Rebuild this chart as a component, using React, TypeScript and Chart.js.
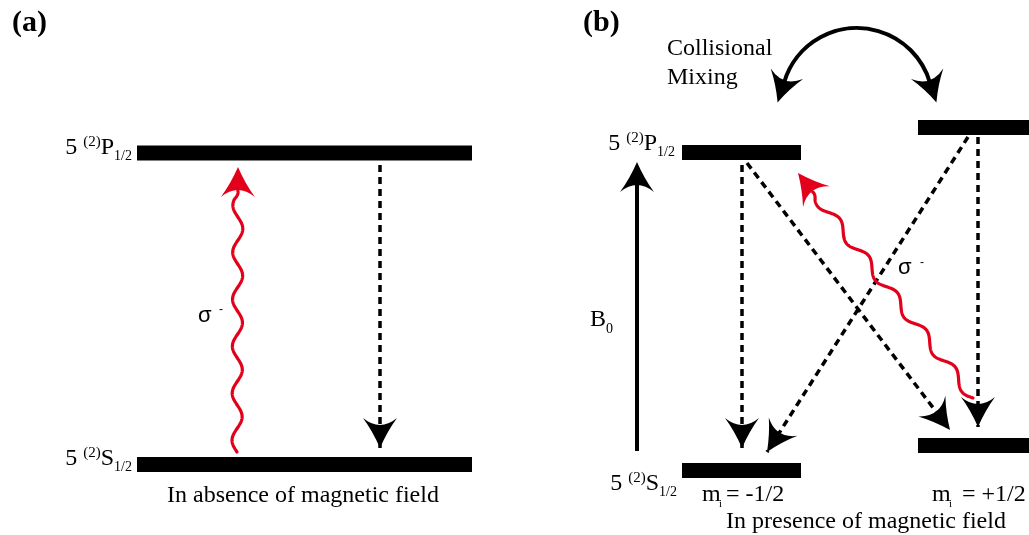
import React, { useEffect, useRef } from "react";
import { Chart, registerables } from "chart.js";

Chart.register(...registerables);

const CANVAS_W = 1029;
const CANVAS_H = 535;

const SERIF = "'Liberation Serif', 'Times New Roman', serif";
const SANS = "'Liberation Sans', Arial, sans-serif";
const RED = "#e2001a";

// Energy levels: start x, end x, level height (y)
const levelStart = [137, 137, 682, 918, 682, 918];
const levelEnd = [472, 472, 801, 1029, 801, 1029];
const levelY = [153, 464.5, 152.5, 127.5, 470.5, 445.5];

// Spontaneous decay transitions (dashed arrows)
const decayFromX = [380, 742, 747, 968, 978];
const decayFromY = [165, 165, 163, 137, 137];
const decayToX = [380, 742, 950, 767, 978];
const decayToY = [448, 448, 430, 452, 427];

// Magnetic field arrow B0
const fieldFromX = [637];
const fieldFromY = [451];
const fieldToX = [637];
const fieldToY = [162];

// σ- photon (wavy arrows)
const photonFromX = [237, 973];
const photonFromY = [452, 398];
const photonToX = [238, 798];
const photonToY = [167, 173];

// Collisional mixing arc: center, radius, end angles (deg)
const mixCenterX = [857];
const mixCenterY = [104];
const mixRadius = [76];
const mixAngles = [198, 342];

// Texts
const panelLabels = ["(a)", "(b)"];
const panelLabelX = [12, 583];
const panelLabelY = [31, 31];

const levelLabelState = ["P", "S", "P", "S"];
const levelLabelRight = [132, 132, 675, 677];
const levelLabelBase = [154, 465, 150, 490];

const captions = ["In absence of magnetic field", "In presence of magnetic field"];
const captionX = [303, 866];
const captionY = [502, 528];

const mLabelX = [702, 932];
const mEqX = [726, 962];
const mValues = ["= -1/2", "= +1/2"];
const mBase = [501];

const sigmaX = [198, 898];
const sigmaY = [322, 274];
const sigmaDashX = [219, 920];
const sigmaDashY = [312.5, 265.5];

const mixText = ["Collisional", "Mixing"];
const mixTextX = [667, 667];
const mixTextY = [55, 84];

const fieldLabelX = [590];
const fieldLabelY = [326];

function seg(x1: number, y1: number, x2: number, y2: number) {
  return [
    { x: x1, y: y1 },
    { x: x2, y: y2 },
  ];
}

function arrowHead(
  ctx: CanvasRenderingContext2D,
  tx: number,
  ty: number,
  ux: number,
  uy: number,
  color: string
) {
  const L = 30;
  const Wd = 17;
  const notch = 7;
  const nx = -uy;
  const ny = ux;
  const bx = tx - L * ux;
  const by = ty - L * uy;
  ctx.save();
  ctx.fillStyle = color;
  ctx.beginPath();
  ctx.moveTo(tx, ty);
  ctx.quadraticCurveTo(
    tx - 0.55 * L * ux + 0.42 * Wd * nx,
    ty - 0.55 * L * uy + 0.42 * Wd * ny,
    bx + Wd * nx,
    by + Wd * ny
  );
  ctx.quadraticCurveTo(
    tx - (L - 2 * notch) * ux,
    ty - (L - 2 * notch) * uy,
    bx - Wd * nx,
    by - Wd * ny
  );
  ctx.quadraticCurveTo(
    tx - 0.55 * L * ux - 0.42 * Wd * nx,
    ty - 0.55 * L * uy - 0.42 * Wd * ny,
    tx,
    ty
  );
  ctx.closePath();
  ctx.fill();
  ctx.restore();
}

type Part = { t: string; size: number; dy: number; font?: string; weight?: string };

function richWidth(ctx: CanvasRenderingContext2D, parts: Part[]) {
  let w = 0;
  for (const p of parts) {
    ctx.font = `${p.weight || "normal"} ${p.size}px ${p.font || SERIF}`;
    w += ctx.measureText(p.t).width;
  }
  return w;
}

function drawRich(ctx: CanvasRenderingContext2D, parts: Part[], x: number, y: number) {
  let cx = x;
  for (const p of parts) {
    ctx.font = `${p.weight || "normal"} ${p.size}px ${p.font || SERIF}`;
    ctx.fillText(p.t, cx, y + p.dy);
    cx += ctx.measureText(p.t).width;
  }
}

const diagramPlugin = {
  id: "diagramPlugin",
  afterDatasetsDraw(chart: any) {
    const ctx: CanvasRenderingContext2D = chart.ctx;
    const xs = chart.scales.x;
    const ys = chart.scales.y;
    const px = (v: number) => xs.getPixelForValue(v);
    const py = (v: number) => ys.getPixelForValue(v);

    // Decay arrowheads
    for (let i = 0; i < decayToX.length; i++) {
      const dx = px(decayToX[i]) - px(decayFromX[i]);
      const dy = py(decayToY[i]) - py(decayFromY[i]);
      const len = Math.hypot(dx, dy);
      arrowHead(ctx, px(decayToX[i]), py(decayToY[i]), dx / len, dy / len, "#000");
    }
    // Field arrowhead
    for (let i = 0; i < fieldToX.length; i++) {
      const dx = px(fieldToX[i]) - px(fieldFromX[i]);
      const dy = py(fieldToY[i]) - py(fieldFromY[i]);
      const len = Math.hypot(dx, dy);
      arrowHead(ctx, px(fieldToX[i]), py(fieldToY[i]), dx / len, dy / len, "#000");
    }

    // Photon wavy arrows
    const amp = 5;
    const period = 47;
    for (let i = 0; i < photonFromX.length; i++) {
      const sx = px(photonFromX[i]);
      const sy = py(photonFromY[i]);
      const tx = px(photonToX[i]);
      const ty = py(photonToY[i]);
      const dx = tx - sx;
      const dy = ty - sy;
      const len = Math.hypot(dx, dy);
      const ux = dx / len;
      const uy = dy / len;
      const nx = uy;
      const ny = -ux;
      const wl = len - 24;
      ctx.save();
      ctx.strokeStyle = RED;
      ctx.lineWidth = 3.2;
      ctx.lineCap = "round";
      ctx.lineJoin = "round";
      ctx.beginPath();
      for (let s = 0; s <= wl; s += 0.5) {
        const taper = Math.min(1, (wl - s) / 8);
        const off = amp * taper * Math.sin((2 * Math.PI * s) / period);
        const x = sx + ux * s + nx * off;
        const y = sy + uy * s + ny * off;
        if (s === 0) ctx.moveTo(x, y);
        else ctx.lineTo(x, y);
      }
      ctx.stroke();
      ctx.restore();
      arrowHead(ctx, tx, ty, ux, uy, RED);
    }

    // Collisional mixing arc
    {
      const cx = px(mixCenterX[0]);
      const cy = py(mixCenterY[0]);
      const r = mixRadius[0];
      const a1 = (mixAngles[0] * Math.PI) / 180;
      const a2 = (mixAngles[1] * Math.PI) / 180;
      ctx.save();
      ctx.strokeStyle = "#000";
      ctx.lineWidth = 4;
      ctx.beginPath();
      ctx.arc(cx, cy, r, a1 - 0.03, a2 + 0.03);
      ctx.stroke();
      ctx.restore();
      const l1x = cx + r * Math.cos(a1);
      const l1y = cy + r * Math.sin(a1);
      const u1x = Math.sin(a1);
      const u1y = -Math.cos(a1);
      arrowHead(ctx, l1x + 23 * u1x, l1y + 23 * u1y, u1x, u1y, "#000");
      const l2x = cx + r * Math.cos(a2);
      const l2y = cy + r * Math.sin(a2);
      const u2x = -Math.sin(a2);
      const u2y = Math.cos(a2);
      arrowHead(ctx, l2x + 23 * u2x, l2y + 23 * u2y, u2x, u2y, "#000");
    }

    // Texts
    ctx.save();
    ctx.fillStyle = "#000";
    ctx.textBaseline = "alphabetic";
    ctx.textAlign = "left";

    for (let i = 0; i < panelLabels.length; i++) {
      ctx.font = `bold 30px ${SERIF}`;
      ctx.fillText(panelLabels[i], px(panelLabelX[i]), py(panelLabelY[i]));
    }

    for (let i = 0; i < levelLabelState.length; i++) {
      const parts: Part[] = [
        { t: "5 ", size: 24, dy: 0 },
        { t: "(2)", size: 15, dy: -8 },
        { t: levelLabelState[i], size: 24, dy: 0 },
        { t: "1/2", size: 14, dy: 6 },
      ];
      const w = richWidth(ctx, parts);
      drawRich(ctx, parts, px(levelLabelRight[i]) - w, py(levelLabelBase[i]));
    }

    ctx.textAlign = "center";
    ctx.font = `24px ${SERIF}`;
    for (let i = 0; i < captions.length; i++) {
      ctx.fillText(captions[i], px(captionX[i]), py(captionY[i]));
    }
    ctx.textAlign = "left";

    for (let i = 0; i < mLabelX.length; i++) {
      ctx.font = `24px ${SERIF}`;
      ctx.fillText("m", px(mLabelX[i]), py(mBase[0]));
      ctx.font = `11px ${SERIF}`;
      ctx.fillText("i", px(mLabelX[i]) + 17, py(mBase[0]) + 6);
      ctx.font = `24px ${SERIF}`;
      ctx.fillText(mValues[i], px(mEqX[i]), py(mBase[0]));
    }

    for (let i = 0; i < sigmaX.length; i++) {
      ctx.font = `22px ${SANS}`;
      ctx.fillText("σ", px(sigmaX[i]), py(sigmaY[i]));
      ctx.font = `12px ${SANS}`;
      ctx.fillText("-", px(sigmaDashX[i]), py(sigmaDashY[i]));
    }

    ctx.font = `24px ${SERIF}`;
    for (let i = 0; i < mixText.length; i++) {
      ctx.fillText(mixText[i], px(mixTextX[i]), py(mixTextY[i]));
    }

    ctx.font = `24px ${SERIF}`;
    ctx.fillText("B", px(fieldLabelX[0]), py(fieldLabelY[0]));
    ctx.font = `14px ${SERIF}`;
    ctx.fillText("0", px(fieldLabelX[0]) + 16, py(fieldLabelY[0]) + 7);

    ctx.restore();
  },
};

export default function App() {
  const canvasRef = useRef<HTMLCanvasElement | null>(null);

  useEffect(() => {
    const canvas = canvasRef.current;
    if (!canvas) return;

    const datasets: any[] = [];
    for (let i = 0; i < levelStart.length; i++) {
      datasets.push({
        label: `level ${i}`,
        data: seg(levelStart[i], levelY[i], levelEnd[i], levelY[i]),
        showLine: true,
        borderColor: "#000",
        borderWidth: 15,
        borderCapStyle: "butt",
        pointRadius: 0,
        fill: false,
      });
    }
    for (let i = 0; i < decayFromX.length; i++) {
      datasets.push({
        label: `decay ${i}`,
        data: seg(decayFromX[i], decayFromY[i], decayToX[i], decayToY[i]),
        showLine: true,
        borderColor: "#000",
        borderWidth: 3.5,
        borderDash: [7, 5],
        borderCapStyle: "butt",
        pointRadius: 0,
        fill: false,
      });
    }
    for (let i = 0; i < fieldFromX.length; i++) {
      datasets.push({
        label: "B0",
        data: seg(fieldFromX[i], fieldFromY[i], fieldToX[i], fieldToY[i] + 10),
        showLine: true,
        borderColor: "#000",
        borderWidth: 4,
        borderCapStyle: "butt",
        pointRadius: 0,
        fill: false,
      });
    }

    const chart = new Chart(canvas, {
      type: "scatter",
      data: { datasets },
      options: {
        responsive: false,
        animation: false,
        maintainAspectRatio: false,
        layout: { padding: 0 },
        events: [],
        scales: {
          x: { type: "linear", min: 0, max: CANVAS_W, display: false },
          y: { type: "linear", min: 0, max: CANVAS_H, reverse: true, display: false },
        },
        plugins: {
          legend: { display: false },
          tooltip: { enabled: false },
          title: { display: false },
        },
      } as any,
      plugins: [diagramPlugin as any],
    });

    return () => chart.destroy();
  }, []);

  return (
    <div
      style={{
        position: "fixed",
        left: 0,
        top: 0,
        width: CANVAS_W,
        height: CANVAS_H,
        background: "#fff",
      }}
    >
      <canvas ref={canvasRef} width={CANVAS_W} height={CANVAS_H} />
    </div>
  );
}
